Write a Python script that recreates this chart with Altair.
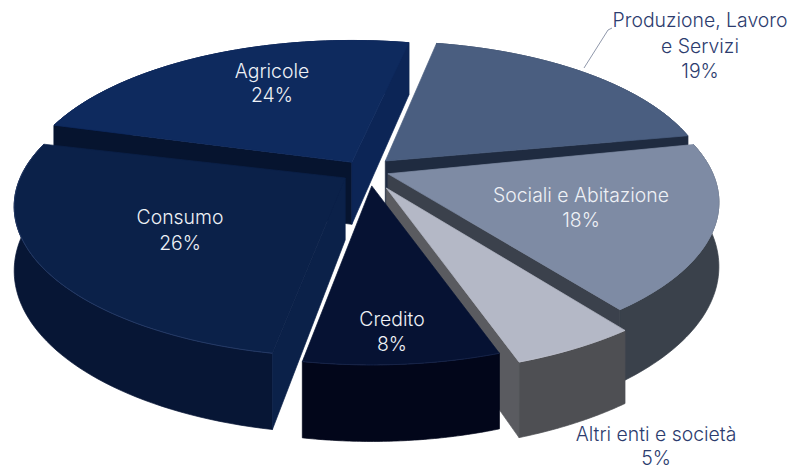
import numpy as np
import altair as alt

# ---- chart values
categories = ["Produzione, Lavoro e Servizi", "Sociali e Abitazione", "Altri enti e società",
              "Credito", "Consumo", "Agricole"]
shares = [19, 18, 5, 8, 26, 24]
label_lines = [["Produzione, Lavoro", "e Servizi", "19%"], ["Sociali e Abitazione", "18%"],
               ["Altri enti e società", "5%"], ["Credito", "8%"], ["Consumo", "26%"], ["Agricole", "24%"]]

# ---- styling
explode = [0.088, 0.075, 0.14, 0.11, 0.076, 0.078]
radius = [0.98, 1.0, 1.04, 1.0, 1.0, 1.0]
rotate = [0, -1.5, -1, -1, -0.5, 1]
nudge_x = [0, 0, 0, 4, 1, 0]
nudge_y = [0, 0, 0, 0, 2, 2]
top_col = ["#4a5e80", "#7e8ba4", "#b4b8c6", "#061233", "#0b2149", "#0e2a5e"]
side_col = ["#2a3750", "#3a414b", "#4e4f53", "#02061a", "#071635", "#0a1f47"]
start_cut = ["#2a3750", "#3b414c", "#5a5b60", "#061233", "#0b2149", "#06142f"]
end_cut = ["#1f2b40", "#3b414c", "#5a5b60", "#061233", "#0c2350", "#0c2556"]
rim_col = ["#4a5e80", "#7e8ba4", "#c0c3cf", "#1c2a50", "#2c4270", "#0e2a5e"]
label_x = [700, 581, 656, 392, 180, 272]
label_y = [[21, 47, 72], [196, 221], [435, 459], [320, 345], [218, 244], [72, 96]]
label_col = ["#2c3c6e", "#eef1f6", "#2c3c6e", "#eef1f6", "#eef1f6", "#eef1f6"]
draw_order = [5, 0, 1, 4, 2, 3]
START, S, SB, K, H = 11.0, 325.0, 145.0, 0.19, 62.0
CX, CY = 365.0, 170.0


def proj(x, z):
    w = 1.0 / (1.0 + K * np.asarray(z))
    return S * np.asarray(x) * w, -SB * np.asarray(z) * w, w


cum = np.concatenate([[0], np.cumsum(shares)]) / sum(shares) * 360.0 + START
features = []


def add(coords, fill, stroke=None, kind="Polygon"):
    pts = [[float(a), float(b)] for a, b in coords]
    if kind == "Polygon":
        pts = pts + [pts[0]]
        geom = {"type": "Polygon", "coordinates": [pts]}
    else:
        geom = {"type": "LineString", "coordinates": pts}
    features.append({"type": "Feature", "geometry": geom,
                     "properties": {"fill": fill if kind == "Polygon" else "transparent",
                                    "stroke": stroke or fill}})


for i in draw_order:
    a, b = np.radians(cum[i] + rotate[i]), np.radians(cum[i + 1] + rotate[i])
    mid = (a + b) / 2
    ax = CX + S * explode[i] * np.sin(mid) + nudge_x[i]
    ay = CY - SB * explode[i] * np.cos(mid) + nudge_y[i]
    t = np.linspace(a, b, 60)
    rx, ry, rw = proj(np.sin(t), np.cos(t))
    rim = np.column_stack([ax + radius[i] * rx, ay + radius[i] * ry])
    low = np.column_stack([rim[:, 0], rim[:, 1] + H * rw])
    apex, apex_low = (ax, ay), (ax, ay + H)
    add(list(rim) + list(low[::-1]), side_col[i])
    # a cut face shows only when its outward normal points towards the viewer
    if np.cos(a - np.pi / 2) < 0:
        add([apex, rim[0], low[0], apex_low], start_cut[i])
    if np.cos(b + np.pi / 2) < 0:
        add([apex, rim[-1], low[-1], apex_low], end_cut[i])
    add([apex] + list(rim), top_col[i])
    add(rim, None, rim_col[i], kind="LineString")

add([(584, 68), (608, 30), (612, 28)], None, "#5f6a85", kind="LineString")

text_rows = []
for lines, x, ys, col in zip(label_lines, label_x, label_y, label_col):
    for line, y in zip(lines, ys):
        text_rows.append({"t": line, "lon": x, "lat": y, "c": col})

proj_args = dict(type="identity", scale=1, translate=[-8, -8])

shapes = alt.Chart(alt.Data(values=features)).mark_geoshape(strokeWidth=0.7).encode(
    fill=alt.Fill("properties.fill:N", scale=None),
    stroke=alt.Stroke("properties.stroke:N", scale=None),
).project(**proj_args)

texts = alt.Chart(alt.Data(values=text_rows)).mark_text(
    font="Inter", fontSize=19.4, fontWeight=300, baseline="middle", align="center"
).encode(
    longitude="lon:Q", latitude="lat:Q", text="t:N", color=alt.Color("c:N", scale=None)
).project(**proj_args)

chart = alt.layer(shapes, texts).properties(
    width=781, height=462, padding=0, autosize=alt.AutoSizeParams(type="none")
).configure_view(stroke=None)

chart.save("out.html", embed_options={"renderer": "svg", "actions": False})
